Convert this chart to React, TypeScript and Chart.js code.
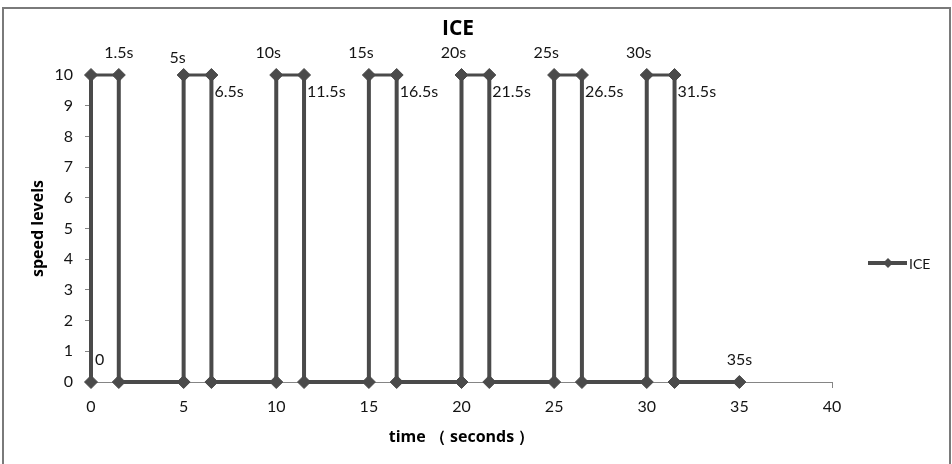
import { useEffect, useRef } from 'react';
import { Chart, registerables } from 'chart.js';

Chart.register(...registerables);

// ---- data ----
const chartTitle = 'ICE';
const seriesName = 'ICE';
const xTitle = 'time （ seconds ）';
const yTitle = 'speed levels';
const times = [0, 0, 1.5, 1.5, 5, 5, 6.5, 6.5, 10, 10, 11.5, 11.5, 15, 15, 16.5, 16.5, 20, 20, 21.5, 21.5, 25, 25, 26.5, 26.5, 30, 30, 31.5, 31.5, 35];
const levels = [0, 10, 10, 0, 0, 10, 10, 0, 0, 10, 10, 0, 0, 10, 10, 0, 0, 10, 10, 0, 0, 10, 10, 0, 0, 10, 10, 0, 0];
const pointLabels = ['0', '', '1.5s', '', '', '5s', '6.5s', '', '', '10s', '11.5s', '', '', '15s', '16.5s', '', '', '20s', '21.5s', '', '', '25s', '26.5s', '', '', '30s', '31.5s', '', '35s'];
const labelPlacement = ['aboveRight', '', 'above', '', '', 'aboveLeftLow', 'belowRight', '', '', 'aboveLeft', 'belowRight', '', '', 'aboveLeft', 'belowRight', '', '', 'aboveLeft', 'belowRight', '', '', 'aboveLeft', 'belowRight', '', '', 'aboveLeft', 'belowRight', '', 'above'];
const xMin = 0, xMax = 40, xStep = 5;
const yMin = 0, yMax = 10, yStep = 1;

// ---- styles ----
const LINE = '#4a4a4a';
const AXIS = '#858585';
const TEXT = '#141414';
const PLACE: Record<string, { align: CanvasTextAlign; dx: number; dy: number }> = {
  above: { align: 'center', dx: 0, dy: -17.5 },
  aboveLeft: { align: 'center', dx: -8, dy: -17.5 },
  aboveLeftLow: { align: 'center', dx: -6, dy: -12 },
  belowRight: { align: 'left', dx: 3, dy: 22 },
  aboveRight: { align: 'left', dx: 4, dy: -17 },
};

const decorPlugin = {
  id: 'decor',
  beforeDraw(chart: any) {
    const ctx = chart.ctx;
    ctx.save();
    ctx.fillStyle = '#ffffff';
    ctx.fillRect(0, 0, chart.width, chart.height);
    ctx.strokeStyle = '#7a7a7a';
    ctx.lineWidth = 2;
    ctx.strokeRect(3, 8, 947, 470);
    ctx.restore();
  },
  afterDraw(chart: any) {
    const ctx = chart.ctx;
    ctx.save();
    // title
    ctx.fillStyle = '#000';
    ctx.font = 'bold 21px "Open Sans"';
    ctx.textAlign = 'center';
    ctx.textBaseline = 'alphabetic';
    ctx.fillText(chartTitle, 458, 35);
    // data labels
    const meta = chart.getDatasetMeta(0);
    ctx.font = '16px Lato';
    ctx.fillStyle = TEXT;
    meta.data.forEach((el: any, i: number) => {
      const t = pointLabels[i];
      if (!t) return;
      const p = PLACE[labelPlacement[i]];
      ctx.textAlign = p.align;
      ctx.fillText(t, el.x + p.dx, el.y + p.dy);
    });
    // legend
    const ly = 263;
    ctx.strokeStyle = LINE;
    ctx.lineWidth = 4;
    ctx.beginPath();
    ctx.moveTo(868, ly);
    ctx.lineTo(907, ly);
    ctx.stroke();
    ctx.fillStyle = LINE;
    ctx.beginPath();
    ctx.moveTo(888, ly - 5);
    ctx.lineTo(893, ly);
    ctx.lineTo(888, ly + 5);
    ctx.lineTo(883, ly);
    ctx.closePath();
    ctx.fill();
    ctx.fillStyle = TEXT;
    ctx.font = '14px Lato';
    ctx.textAlign = 'left';
    ctx.textBaseline = 'middle';
    ctx.fillText(seriesName, 909, ly + 1);
    ctx.restore();
  },
};

export default function App() {
  const ref = useRef<HTMLCanvasElement | null>(null);
  useEffect(() => {
    if (!ref.current) return;
    const chart = new Chart(ref.current, {
      type: 'line',
      data: {
        datasets: [
          {
            label: seriesName,
            data: times.map((t, i) => ({ x: t, y: levels[i] })),
            borderColor: LINE,
            backgroundColor: LINE,
            borderWidth: 4,
            pointStyle: 'rectRot',
            pointRadius: 6.5,
            pointBorderWidth: 1,
            pointBackgroundColor: LINE,
            pointBorderColor: LINE,
            tension: 0,
            clip: false,
            segment: {
              borderWidth: (c: any) => (c.p0.parsed.y === yMax && c.p1.parsed.y === yMax ? 3 : 4),
            },
          },
        ],
      },
      options: {
        responsive: false,
        animation: false,
        layout: { padding: { left: 0, top: 75, right: 120, bottom: 0 } },
        plugins: {
          legend: { display: false },
          title: { display: false },
          tooltip: { enabled: false },
        },
        scales: {
          x: {
            type: 'linear',
            min: xMin,
            max: xMax,
            ticks: { stepSize: xStep, color: TEXT, font: { family: 'Lato', size: 16 }, padding: 9 },
            grid: { drawOnChartArea: false, drawTicks: true, tickLength: 6, color: AXIS },
            border: { display: true, color: AXIS, width: 1 },
            title: {
              display: true,
              text: xTitle,
              color: '#000',
              font: { family: '"Open Sans"', size: 16, weight: 'bold' },
              padding: { top: 0, bottom: 17 },
            },
            afterFit: (s: any) => {
              s.height = 82;
            },
          },
          y: {
            type: 'linear',
            min: yMin,
            max: yMax,
            ticks: { stepSize: yStep, color: TEXT, font: { family: 'Lato', size: 16 }, padding: 12 },
            grid: { drawOnChartArea: false, drawTicks: true, tickLength: 6, color: AXIS },
            border: { display: true, color: AXIS, width: 1 },
            title: {
              display: true,
              text: yTitle,
              color: '#000',
              font: { family: '"Open Sans"', size: 16, weight: 'bold' },
              padding: { top: 29, bottom: 0 },
            },
            afterFit: (s: any) => {
              s.width = 91;
            },
          },
        },
      },
      plugins: [decorPlugin],
    } as any);
    return () => chart.destroy();
  }, []);
  return (
    <div style={{ position: 'fixed', left: 0, top: 0, width: 952, height: 464 }}>
      <canvas ref={ref} width={952} height={464} style={{ width: 952, height: 464, display: 'block' }} />
    </div>
  );
}
